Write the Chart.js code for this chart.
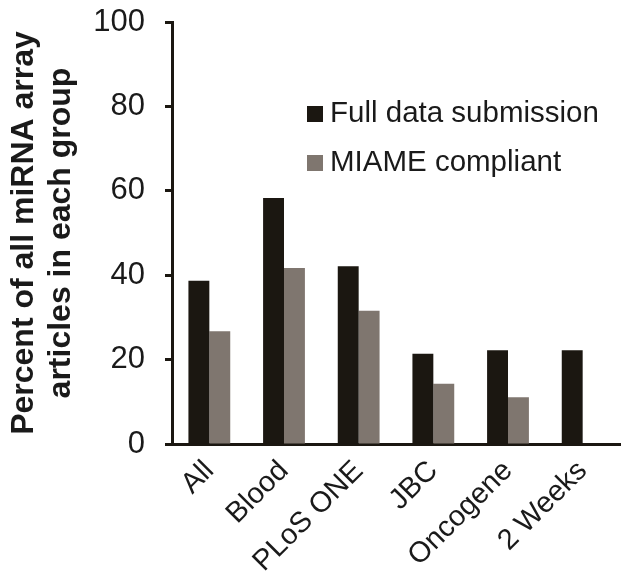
<!DOCTYPE html>
<html>
<head>
<meta charset="utf-8">
<script src="https://cdn.jsdelivr.net/npm/chart.js@4.4.1/dist/chart.umd.min.js"></script>
<style>
  html, body { margin: 0; padding: 0; background: #fff; }
  #wrap { width: 629px; height: 586px; }
</style>
</head>
<body>
<div id="wrap"><canvas id="chart" width="629" height="586"></canvas></div>
<script>
// categories and series (percent of articles)
const groups = ['All', 'Blood', 'PLoS ONE', 'JBC', 'Oncogene', '2 Weeks'];
const fullData = [38.7, 58.3, 42.1, 21.4, 22.2, 22.2];
const miameData = [26.7, 41.7, 31.6, 14.3, 11.1, 0];
const seriesNames = ['Full data submission', 'MIAME compliant'];
const yTicks = [0, 20, 40, 60, 80, 100];

const ink = '#1b1711';
const grey = '#7f766f';
const font = 'Liberation Sans, Arial, sans-serif';

// legend drawn inside the plot area, like the original figure
const innerLegend = {
    id: 'innerLegend',
    afterDatasetsDraw(chart) {
        const { ctx, chartArea } = chart;
        const x = chartArea.left + 135;
        const rows = [chartArea.top + 92, chartArea.top + 141];
        ctx.save();
        ctx.font = '29.5px ' + font;
        ctx.textBaseline = 'middle';
        chart.data.datasets.forEach((ds, i) => {
            ctx.fillStyle = ds.backgroundColor;
            ctx.fillRect(x, rows[i] - 8, 16, 16);
            ctx.fillStyle = '#1a1a1a';
            ctx.fillText(ds.label, x + 23, rows[i]);
        });
        ctx.restore();
    }
};

new Chart(document.getElementById('chart'), {
    type: 'bar',
    data: {
        labels: groups,
        datasets: [
            { label: seriesNames[0], data: fullData, backgroundColor: ink },
            { label: seriesNames[1], data: miameData, backgroundColor: grey }
        ]
    },
    options: {
        responsive: false,
        animation: false,
        layout: { padding: { top: 22, right: 9, left: 0, bottom: 0 } },
        datasets: {
            bar: { categoryPercentage: 0.56, barPercentage: 1.0, borderWidth: 0 }
        },
        plugins: {
            legend: { display: false },
            tooltip: { enabled: false }
        },
        scales: {
            x: {
                grid: { display: false, drawTicks: false },
                border: { color: ink, width: 3 },
                ticks: {
                    color: '#1a1a1a',
                    font: { family: font, size: 29 },
                    maxRotation: 45,
                    minRotation: 45,
                    padding: 10
                },
                afterFit(scale) { scale.height = 142; }
            },
            y: {
                min: 0,
                max: 100,
                afterBuildTicks(scale) { scale.ticks = yTicks.map(v => ({ value: v })); },
                grid: { drawOnChartArea: false, drawTicks: true, tickLength: 7, tickWidth: 3, tickColor: ink },
                border: { color: ink, width: 3 },
                ticks: {
                    color: '#1a1a1a',
                    font: { family: font, size: 31 },
                    padding: 20
                },
                title: {
                    display: true,
                    text: ['Percent of all miRNA array', 'articles in each group'],
                    color: '#1a1a1a',
                    font: { family: font, size: 32, weight: 'bold', lineHeight: 1.15 },
                    padding: { top: 6, bottom: 0 }
                },
                afterFit(scale) {
                    scale.width = 172;
                    scale.paddingTop = 0;
                    scale.paddingBottom = 0;
                }
            }
        }
    },
    plugins: [innerLegend]
});
</script>
</body>
</html>
